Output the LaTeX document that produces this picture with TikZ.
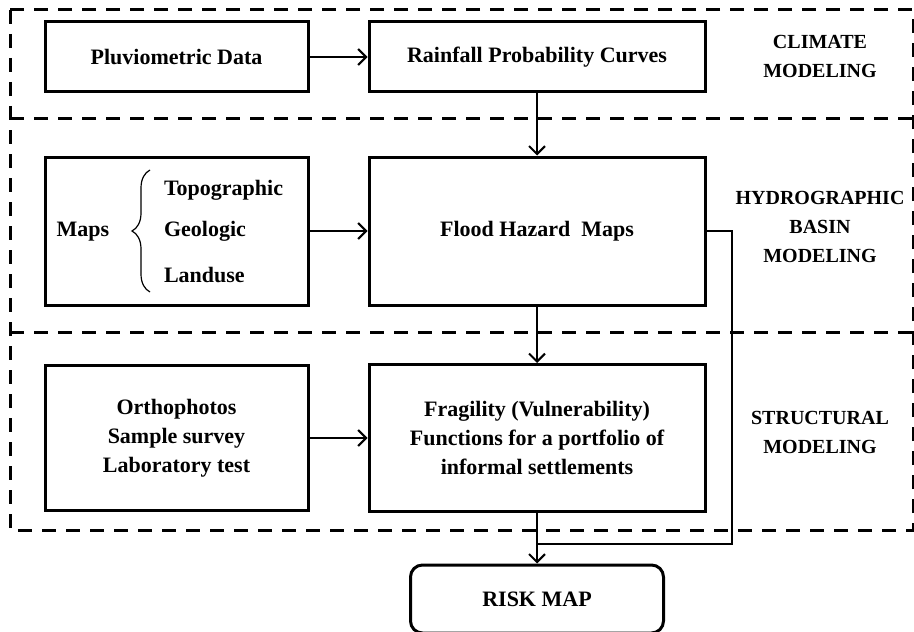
\documentclass[tikz,border=0pt]{standalone}
\usepackage{fontspec}
\setmainfont{Liberation Serif}
\usetikzlibrary{arrows.meta,decorations.pathreplacing}

\begin{document}
\begin{tikzpicture}[
  x=0.5pt, y=-0.5pt,
  txt/.style={font=\fontsize{11}{14.5}\selectfont\bfseries, align=center},
  zonetxt/.style={font=\fontsize{10}{14.5}\selectfont\bfseries, align=center},
  box/.style={txt, draw, line width=1.5pt, inner sep=0pt},
  smallbox/.style={box, minimum width=131.5pt},
  bigbox/.style={box, minimum width=168pt},
  zone/.style={line width=1.5pt, dash pattern=on 7pt off 5pt},
  flow/.style={line width=1pt, -{Straight Barb[length=4pt,width=8pt]}},
  link/.style={line width=1pt},
]

\useasboundingbox (0,0) rectangle (914,631);

% modeling zones (dashed)
\draw[zone] (10,10) rectangle (913,530);
\draw[zone] (10,118) -- (913,118);
\draw[zone] (10,332) -- (913,332);

% climate row
\node[smallbox, minimum height=35pt] (pluvio) at (176.5,57) {Pluviometric Data};
\node[bigbox, minimum height=35pt] (rainfall) at (537,57) {Rainfall Probability Curves};
\node[zonetxt] (climate) at (820,56) {CLIMATE\\MODELING};

% hydrographic row
\node[smallbox, minimum height=74pt] (maps) at (176.5,231) {};
\node[txt] (mapsname) at (83,232) {Maps};
\node[txt, anchor=west] (topo) at (157,190) {Topographic};
\node[txt, anchor=west] (geo) at (157,231) {Geologic};
\node[txt, anchor=west] (land) at (157,275) {Landuse};
\coordinate (brlow) at (150,292);
\coordinate (brtop) at (150,170);
\draw[line width=0.6pt, decorate, decoration={brace, amplitude=9pt}]
  (brlow) -- (brtop);
\node[bigbox, minimum height=74pt] (flood) at (537,231) {Flood Hazard\ \ Maps};
\node[zonetxt] (hydro) at (820,227) {HYDROGRAPHIC\\BASIN\\MODELING};

% structural row
\node[smallbox, minimum height=72.5pt] (survey) at (176.5,438)
  {Orthophotos\\Sample survey\\Laboratory test};
\node[bigbox, minimum height=73.5pt] (fragility) at (537,438)
  {Fragility (Vulnerability)\\Functions for a portfolio of\\informal settlements};
\node[zonetxt] (struct) at (820,432) {STRUCTURAL\\MODELING};

% result
\node[box, rounded corners=6pt, minimum width=126.5pt, minimum height=34pt]
  (risk) at (537,599) {RISK MAP};

% connectors
\draw[flow] (pluvio) -- (rainfall);
\draw[flow] (rainfall) -- (flood);
\draw[flow] (maps) -- (flood);
\draw[flow] (flood) -- (fragility);
\draw[flow] (survey) -- (fragility);
\draw[flow] (fragility) -- (risk);

% flood maps feed the risk map directly
\coordinate (bend) at (732,544);
\coordinate (join) at (537,544);
\draw[link] (flood.east) -| (bend) -- (join);

\end{tikzpicture}
\end{document}
